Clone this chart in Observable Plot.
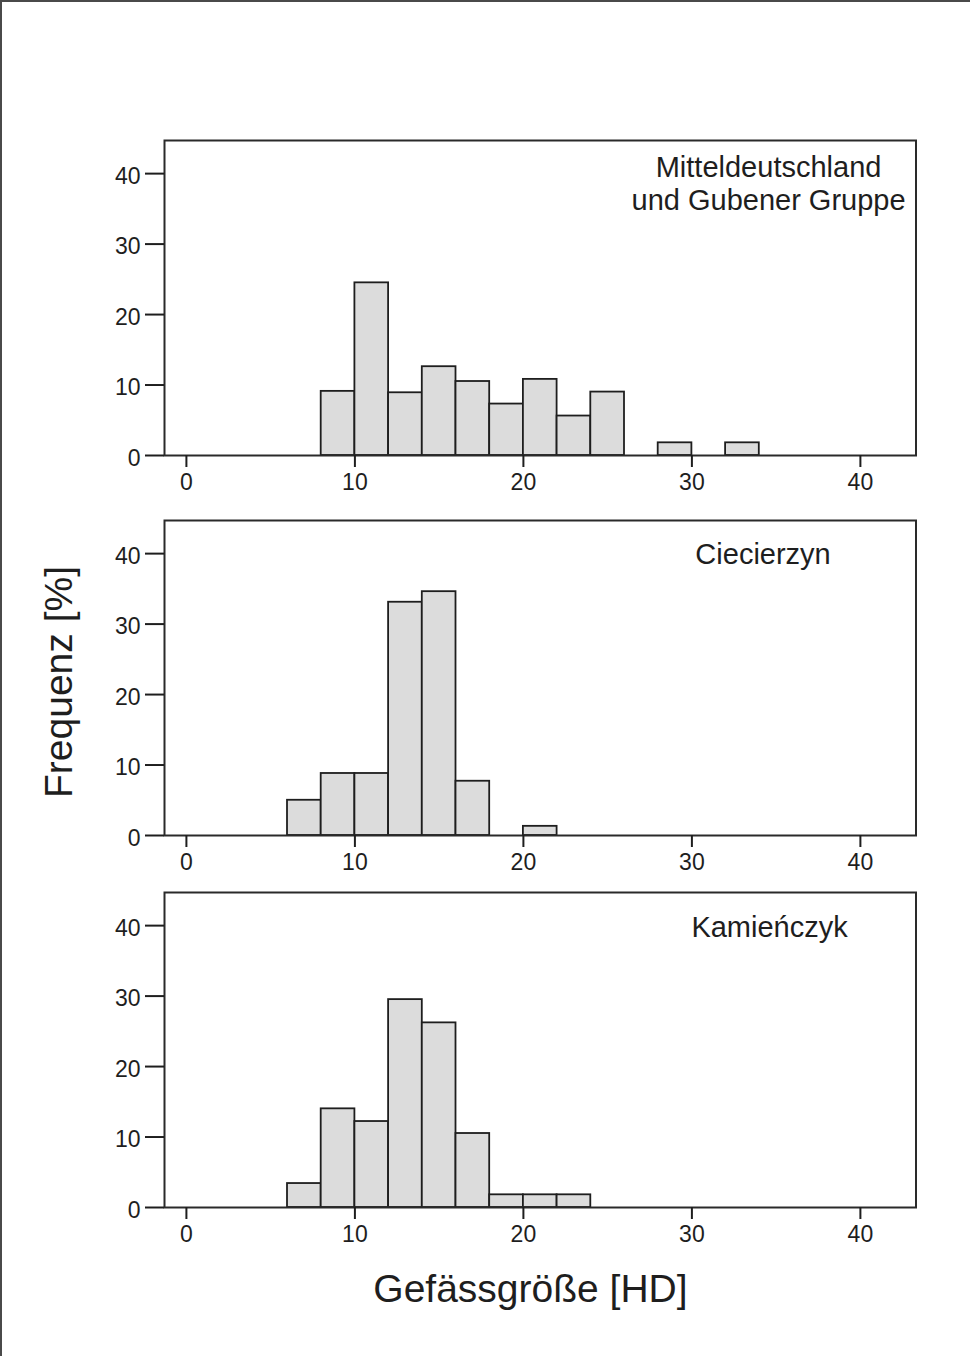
<!DOCTYPE html>
<html>
<head>
<meta charset="utf-8">
<script src="https://cdn.jsdelivr.net/npm/d3@7"></script>
<script src="https://cdn.jsdelivr.net/npm/@observablehq/plot@0.6"></script>
<style>
  html, body { margin: 0; padding: 0; background: #fff; }
  #wrap { position: relative; width: 970px; height: 1356px; overflow: hidden; background: #fff; }
  #border { position: absolute; left: 0; top: 0; width: 970px; height: 1356px; box-sizing: border-box;
            border-top: 2px solid #4a4a4a; border-left: 2px solid #4a4a4a; pointer-events: none; }
  .panel { position: absolute; left: 0; }
</style>
</head>
<body>
<div id="wrap"><div id="border"></div></div>
<script>
// ---- data ----
const binWidth = 2;
const xTicks = [0, 10, 20, 30, 40];
const yTicks = [0, 10, 20, 30, 40];

const labelMittel = "Mitteldeutschland\nund Gubener Gruppe";
const edgesMittel = [8, 10, 12, 14, 16, 18, 20, 22, 24, 28, 32];
const valuesMittel = [9.1, 24.5, 8.9, 12.6, 10.5, 7.3, 10.8, 5.6, 9.0, 1.8, 1.8];

const labelCiec = "Ciecierzyn";
const edgesCiec = [6, 8, 10, 12, 14, 16, 20];
const valuesCiec = [5.0, 8.8, 8.8, 33.1, 34.6, 7.7, 1.3];

const labelKam = "Kamieńczyk";
const edgesKam = [6, 8, 10, 12, 14, 16, 18, 20, 22];
const valuesKam = [3.4, 14.0, 12.2, 29.5, 26.2, 10.5, 1.8, 1.8, 1.8];

const yTitle = "Frequenz [%]";
const xTitle = "Gefässgröße [HD]";

// ---- drawing ----
const FONT = "'Liberation Sans', Arial, Helvetica, sans-serif";
const INK = "#1e1e1e";

function panel({edges, values, label, labelDx, labelDy, top, marginBottom = 45, extra = []}) {
  const bars = edges.map((e, i) => ({x1: e, x2: e + binWidth, y: values[i]}));
  const height = 20 + 315 + marginBottom;
  const svg = Plot.plot({
    width: 970,
    height,
    marginLeft: 164,
    marginRight: 54.5,
    marginTop: 20,
    marginBottom,
    style: {fontFamily: FONT, fontSize: "23px", color: INK, background: "transparent", overflow: "visible"},
    x: {domain: [-1.3, 43.3]},
    y: {domain: [0, 44.7]},
    marks: [
      Plot.rectY(bars, {x1: "x1", x2: "x2", y: "y", fill: "#dcdcdc", stroke: INK, strokeWidth: 1.8, inset: 0}),
      Plot.frame({stroke: "#2a2a2a", strokeWidth: 2}),
      Plot.axisX({ticks: xTicks, tickSize: 12, tickPadding: 6, strokeWidth: 2, label: null, fontSize: 23}),
      Plot.axisY({ticks: yTicks, tickSize: 19, strokeWidth: 2, fill: "none", label: null}),
      Plot.axisY({ticks: yTicks, tickSize: 19, tickPadding: 5, stroke: "none", dy: 3, label: null, fontSize: 23}),
      Plot.text([label], {text: d => d, frameAnchor: "top", dx: labelDx, dy: labelDy, lineAnchor: "bottom",
                          textAnchor: "middle", lineHeight: 1.115, fontSize: 29, fill: INK}),
      ...extra
    ]
  });
  svg.classList.add("panel");
  svg.style.top = top + "px";
  document.getElementById("wrap").appendChild(svg);
}

panel({edges: edgesMittel, values: valuesMittel, label: labelMittel, labelDx: 228.3, labelDy: 69, top: 120});
panel({edges: edgesCiec, values: valuesCiec, label: labelCiec, labelDx: 222.8, labelDy: 43, top: 500,
  extra: [Plot.text([yTitle], {text: d => d, frameAnchor: "left", rotate: -90, dx: -92.3, dy: 4,
                               textAnchor: "middle", lineAnchor: "bottom", fontSize: 39, fill: INK})]});
panel({edges: edgesKam, values: valuesKam, label: labelKam, labelDx: 229.3, labelDy: 44, top: 872, marginBottom: 140,
  extra: [Plot.text([xTitle], {text: d => d, frameAnchor: "bottom", dx: -9.8, dy: 94,
                               textAnchor: "middle", lineAnchor: "bottom", fontSize: 39, fill: INK})]});
</script>
</body>
</html>
